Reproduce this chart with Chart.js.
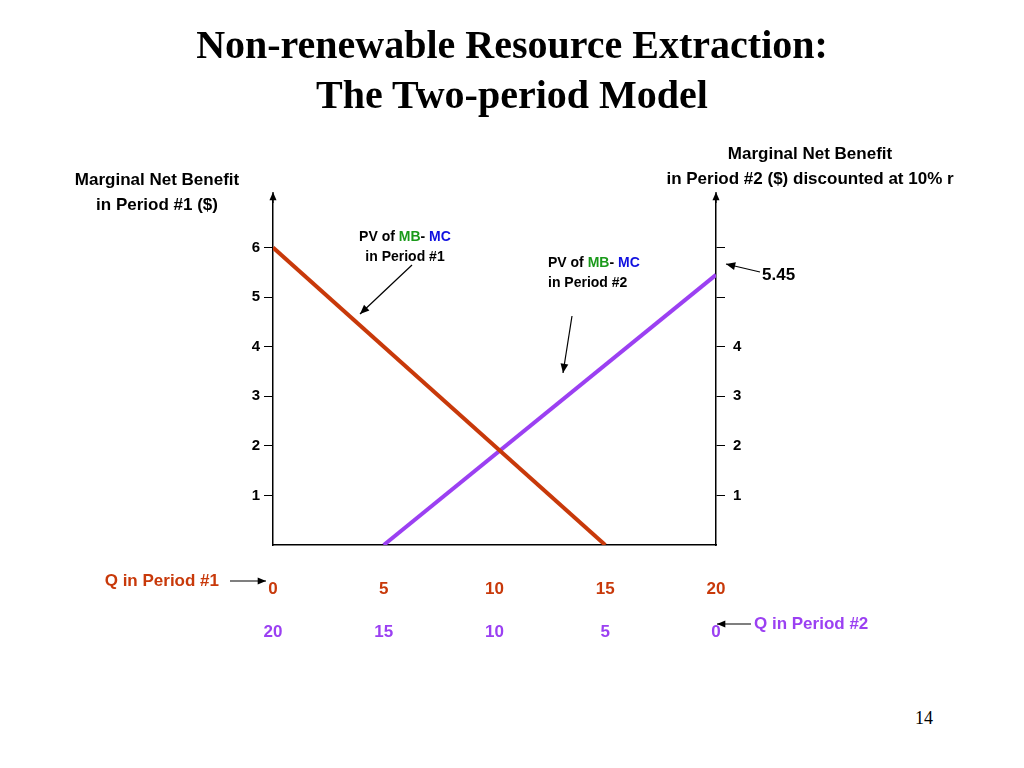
<!DOCTYPE html>
<html>
<head>
<meta charset="utf-8">
<script src="https://cdn.jsdelivr.net/npm/chart.js@4/dist/chart.umd.min.js"></script>
<style>
  body { margin:0; background:#fff; width:1024px; height:768px; overflow:hidden; position:relative; }
  #title { position:absolute; top:20px; left:0; width:1024px; text-align:center; font-family:"Liberation Serif",serif; font-weight:bold; font-size:40px; line-height:50px; color:#000; z-index:2; }
  #page { position:absolute; top:708px; left:915px; font-family:"Liberation Serif",serif; font-size:18px; }
  #wrap { position:absolute; left:0; top:0; width:1024px; height:768px; }
</style>
</head>
<body>
<div id="title">Non-renewable Resource Extraction:<br>The Two-period Model</div>
<div id="page">14</div>
<div id="wrap"><canvas id="grafico" width="1024" height="768"></canvas></div>
<script>
'use strict';

// quantidades em período 1 (eixo x)
const q1Ticks = [0, 5, 10, 15, 20];
// benefício marginal líquido período 1 (linha vermelha)
const q1Red = [0, 15];
const mnb1 = [6, 0];
// benefício marginal líquido período 2 descontado (linha roxa), em Q do período 1
const q1Purple = [5, 20];
const mnb2 = [0, 5.45];
const yLeftTicks = [1, 2, 3, 4, 5, 6];
const yRightLabels = [1, 2, 3, 4];

const RED = '#c8390a';
const PURPLE = '#9b40f2';
const FONT = 'bold 17px "Liberation Sans", Arial, sans-serif';
const SMALL = 'bold 14px "Liberation Sans", Arial, sans-serif';

function seta(ctx, x1, y1, x2, y2, tam)
{
    ctx.beginPath();
    ctx.moveTo(x1, y1);
    ctx.lineTo(x2, y2);
    ctx.stroke();
    const a = Math.atan2(y2 - y1, x2 - x1);
    ctx.beginPath();
    ctx.moveTo(x2, y2);
    ctx.lineTo(x2 - tam * Math.cos(a - 0.4), y2 - tam * Math.sin(a - 0.4));
    ctx.lineTo(x2 - tam * Math.cos(a + 0.4), y2 - tam * Math.sin(a + 0.4));
    ctx.closePath();
    ctx.fill();
}

const anotacoes = {
    id: 'anotacoes',
    afterDraw(chart) {
        const ctx = chart.ctx;
        const a = chart.chartArea;
        ctx.save();
        ctx.fillStyle = '#000';
        ctx.strokeStyle = '#000';
        ctx.lineWidth = 1.2;
        // setas dos eixos verticais
        seta(ctx, a.left, a.top + 5, a.left, a.top - 6, 9);
        seta(ctx, a.right, a.top + 5, a.right, a.top - 6, 9);

        ctx.textBaseline = 'middle';
        ctx.textAlign = 'center';
        ctx.font = FONT;
        ctx.fillText('Marginal Net Benefit', 157, 180);
        ctx.fillText('in Period #1 ($)', 157, 205);
        ctx.fillText('Marginal Net Benefit', 810, 154);
        ctx.fillText('in Period #2 ($) discounted at 10% r', 810, 179);

        function pv(x, yy, align, periodo)
        {
            ctx.font = SMALL;
            ctx.textAlign = 'left';
            const partes = [['PV of ', '#000'], ['MB', '#1a9a1a'], ['- ', '#000'], ['MC', '#1010e0']];
            let w = partes.reduce((s, p) => s + ctx.measureText(p[0]).width, 0);
            let xx = align === 'center' ? x - w / 2 : x;
            partes.forEach(p => { ctx.fillStyle = p[1]; ctx.fillText(p[0], xx, yy); xx += ctx.measureText(p[0]).width; });
            ctx.fillStyle = '#000';
            ctx.textAlign = align;
            ctx.fillText('in Period #' + periodo, x, yy + 20);
        }
        pv(405, 237, 'center', 1);
        pv(548, 263, 'left', 2);
        seta(ctx, 412, 265, 360, 314, 10);
        seta(ctx, 572, 316, 563, 373, 10);

        ctx.font = FONT;
        ctx.textAlign = 'left';
        ctx.fillText(String(mnb2[1]), 762, 275);
        seta(ctx, 760, 272, 726, 264, 10);

        const yq1 = 581;
        ctx.fillStyle = RED;
        ctx.textAlign = 'right';
        ctx.fillText('Q in Period #1', 219, yq1);
        ctx.fillStyle = '#000';
        seta(ctx, 230, yq1, 266, yq1, 9);

        const yq2 = 624;
        ctx.fillStyle = PURPLE;
        ctx.textAlign = 'left';
        ctx.fillText('Q in Period #2', 754, yq2);
        ctx.fillStyle = '#000';
        seta(ctx, 751, yq2, 717, yq2, 9);
        ctx.restore();
    }
};

const tickFont = { family: '"Liberation Sans", Arial, sans-serif', size: 17, weight: 'bold' };

new Chart(document.getElementById('grafico'), {
    type: 'line',
    data: {
        datasets: [
            { data: q1Red.map((v, i) => ({ x: v, y: mnb1[i] })), borderColor: RED, borderWidth: 4, pointRadius: 0, xAxisID: 'x', yAxisID: 'y' },
            { data: q1Purple.map((v, i) => ({ x: v, y: mnb2[i] })), borderColor: PURPLE, borderWidth: 4, pointRadius: 0, xAxisID: 'x', yAxisID: 'y' }
        ]
    },
    options: {
        responsive: false,
        animation: false,
        events: [],
        layout: { padding: { top: 198, left: 0, right: 0, bottom: 0 } },
        plugins: { legend: { display: false }, tooltip: { enabled: false } },
        scales: {
            x: {
                type: 'linear', position: 'bottom', min: 0, max: 20,
                afterBuildTicks: s => { s.ticks = q1Ticks.map(v => ({ value: v })); },
                afterFit: s => { s.height = 60; },
                border: { color: '#000', width: 1.5 },
                grid: { display: false },
                ticks: { color: RED, font: tickFont, padding: 26, maxRotation: 0 }
            },
            x2: {
                type: 'linear', position: 'bottom', min: 0, max: 20, reverse: true,
                afterBuildTicks: s => { s.ticks = q1Ticks.map(v => ({ value: v })); },
                afterFit: s => { s.height = 163; },
                border: { display: false },
                grid: { display: false },
                ticks: { color: PURPLE, font: tickFont, padding: 9, maxRotation: 0 }
            },
            y: {
                position: 'left', min: 0, max: 7,
                afterBuildTicks: s => { s.ticks = yLeftTicks.map(v => ({ value: v })); },
                afterFit: s => { s.width = 273; },
                border: { color: '#000', width: 1.5 },
                grid: { drawOnChartArea: false, color: '#000', tickLength: 9 },
                ticks: { color: '#000', font: { ...tickFont, size: 15 }, padding: 4 }
            },
            y2: {
                position: 'right', min: 0, max: 7,
                afterBuildTicks: s => { s.ticks = yLeftTicks.map(v => ({ value: v })); },
                afterFit: s => { s.width = 308; },
                border: { color: '#000', width: 1.5 },
                grid: { drawOnChartArea: false, color: '#000', tickLength: 9 },
                ticks: { color: '#000', font: { ...tickFont, size: 15 }, padding: 8,
                    callback: v => yRightLabels.includes(v) ? String(v) : '' }
            }
        }
    },
    plugins: [anotacoes]
});
</script>
</body>
</html>
